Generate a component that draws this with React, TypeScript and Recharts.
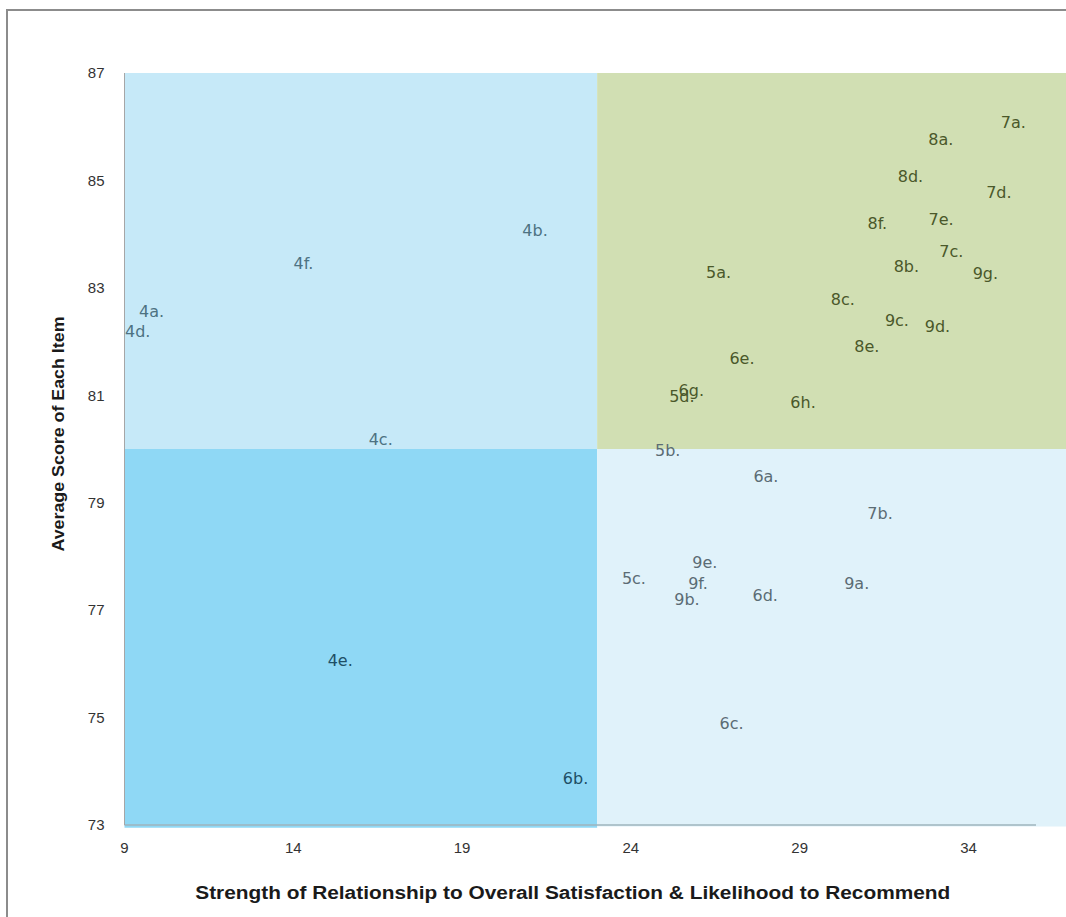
import React from "react";
import { ScatterChart, Scatter, XAxis, YAxis, ReferenceArea } from "recharts";

// Survey items and their positions on the importance/performance grid
const items = [
  "4a.", "4b.", "4c.", "4d.", "4e.", "4f.",
  "5a.", "5b.", "5c.", "5d.",
  "6a.", "6b.", "6c.", "6d.", "6e.", "6g.", "6h.",
  "7a.", "7b.", "7c.", "7d.", "7e.",
  "8a.", "8b.", "8c.", "8d.", "8e.", "8f.",
  "9a.", "9b.", "9c.", "9d.", "9e.", "9f.", "9g.",
];
const strength = [
  9.8, 21.16, 16.59, 9.39, 15.39, 14.3,
  26.6, 25.09, 24.09, 25.51,
  28.0, 22.36, 26.98, 27.98, 27.29, 25.79, 29.1,
  35.33, 31.38, 33.49, 34.9, 33.19,
  33.18, 32.16, 30.28, 32.28, 30.99, 31.3,
  30.69, 25.66, 31.88, 33.08, 26.19, 25.99, 34.5,
];
const score = [
  82.56, 84.06, 80.17, 82.18, 76.07, 83.46,
  83.28, 79.98, 77.58, 80.98,
  79.49, 73.87, 74.89, 77.28, 81.69, 81.08, 80.87,
  86.07, 78.79, 83.68, 84.77, 84.28,
  85.77, 83.39, 82.78, 85.07, 81.9, 84.19,
  77.49, 77.19, 82.39, 82.28, 77.88, 77.49, 83.27,
];

const xTicks = [9, 14, 19, 24, 29, 34];
const yTicks = [73, 75, 77, 79, 81, 83, 85, 87];

// Quadrant split points
const xSplit = 23;
const ySplit = 80;

const data = items.map((item, i) => ({ item, x: strength[i], y: score[i] }));

const quadrantFill = {
  tl: "#C6E9F8",
  tr: "#D1DFB3",
  bl: "#8FD8F5",
  br: "#E0F2FA",
};
const quadrantText = {
  tl: "#4D7282",
  tr: "#4A582A",
  bl: "#1E4F66",
  br: "#5B6C74",
};

const quadrantOf = (x: number, y: number) =>
  y >= ySplit ? (x >= xSplit ? "tr" : "tl") : x >= xSplit ? "br" : "bl";

const ItemLabel = (props: any) => {
  const { cx, cy, payload } = props;
  const q = quadrantOf(payload.x, payload.y);
  return (
    <text
      x={cx}
      y={cy}
      textAnchor="middle"
      dominantBaseline="central"
      fontFamily="'DejaVu Sans', Verdana, sans-serif"
      fontSize={16}
      fill={quadrantText[q]}
    >
      {payload.item}
    </text>
  );
};

const XTitle = (props: any) => {
  const vb = props.viewBox;
  return (
    <text
      x={vb.x + vb.width / 2 - 7.5}
      y={vb.y + 74}
      textAnchor="middle"
      fontFamily="'Liberation Sans', Arial, sans-serif"
      fontWeight="bold"
      fontSize={18}
      fill="#1a1a1a"
      textLength={755}
      lengthAdjust="spacingAndGlyphs"
    >
      Strength of Relationship to Overall Satisfaction &amp; Likelihood to Recommend
    </text>
  );
};

const YTitle = (props: any) => {
  const vb = props.viewBox;
  const cx = vb.x + 13.5;
  const cy = vb.y + vb.height / 2 - 15;
  return (
    <text
      x={cx}
      y={cy}
      transform={`rotate(-90 ${cx} ${cy})`}
      textAnchor="middle"
      dominantBaseline="central"
      fontFamily="'Liberation Sans', Arial, sans-serif"
      fontWeight="bold"
      fontSize={17}
      fill="#1a1a1a"
      textLength={235}
      lengthAdjust="spacingAndGlyphs"
    >
      Average Score of Each Item
    </text>
  );
};

const tickStyle = {
  fontFamily: "'Liberation Sans', Arial, sans-serif",
  fontSize: 15,
  fill: "#333333",
};

export default function App() {
  return (
    <div
      style={{
        position: "absolute",
        left: 0,
        top: 0,
        width: 1066,
        height: 917,
        background: "#ffffff",
        overflow: "hidden",
      }}
    >
      <div
        style={{
          position: "absolute",
          left: 6,
          top: 9,
          right: -4,
          bottom: -4,
          borderTop: "2px solid #8c8c8c",
          borderLeft: "2px solid #8c8c8c",
        }}
      />
      <ScatterChart
        width={1066}
        height={917}
        margin={{ top: 73, right: 30, bottom: 52, left: 44.5 }}
        style={{ position: "absolute", left: 0, top: 0 }}
      >
        <ReferenceArea x1={9} x2={xSplit} y1={ySplit} y2={87} fill={quadrantFill.tl} fillOpacity={1} stroke="none" ifOverflow="visible" />
        <ReferenceArea x1={xSplit} x2={36.9} y1={ySplit} y2={87} fill={quadrantFill.tr} fillOpacity={1} stroke="none" ifOverflow="visible" />
        <ReferenceArea x1={9} x2={xSplit} y1={72.95} y2={ySplit} fill={quadrantFill.bl} fillOpacity={1} stroke="none" ifOverflow="visible" />
        <ReferenceArea x1={xSplit} x2={36.9} y1={72.97} y2={ySplit} fill={quadrantFill.br} fillOpacity={1} stroke="none" ifOverflow="visible" />
        <XAxis
          type="number"
          dataKey="x"
          domain={[9, 36]}
          ticks={xTicks}
          interval={0}
          height={40}
          tickLine={false}
          tickSize={0}
          tickMargin={17}
          axisLine={{ stroke: "#9fb4bd", strokeWidth: 1.5 }}
          tick={tickStyle}
          label={<XTitle />}
        />
        <YAxis
          type="number"
          dataKey="y"
          domain={[73, 87]}
          ticks={yTicks}
          interval={0}
          width={80}
          tickLine={false}
          tickSize={0}
          tickMargin={20}
          axisLine={{ stroke: "#a6a6a6", strokeWidth: 1 }}
          tick={tickStyle}
          label={<YTitle />}
        />
        <Scatter data={data} shape={<ItemLabel />} isAnimationActive={false} />
      </ScatterChart>
    </div>
  );
}
